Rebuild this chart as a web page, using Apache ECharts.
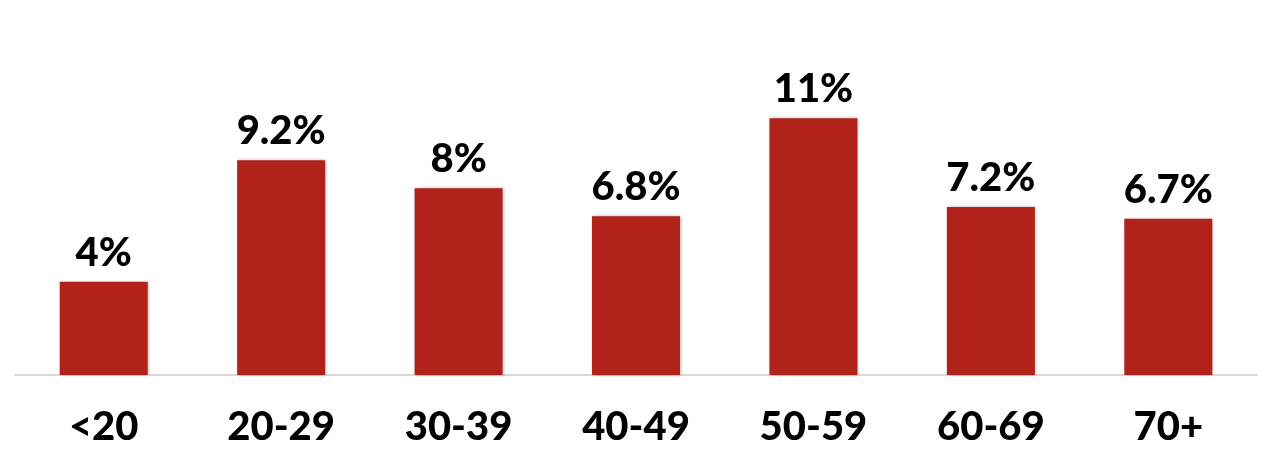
<!DOCTYPE html>
<html><head><meta charset="utf-8">
<script src="https://cdn.jsdelivr.net/npm/echarts@6/dist/echarts.min.js"></script>
<style>html,body{margin:0;padding:0;background:#fff}#c{width:1284px;height:460px}</style>
</head><body><div id="c"></div>
<script>
var categories = ['<20', '20-29', '30-39', '40-49', '50-59', '60-69', '70+'];
var values = [4, 9.2, 8, 6.8, 11, 7.2, 6.7];
var chart = echarts.init(document.getElementById('c'));
chart.setOption({
  animation: false,
  grid: { left: 15, right: 27, top: 95, bottom: 85 },
  xAxis: {
    type: 'category', data: categories,
    axisLine: { lineStyle: { color: '#d9d9d9', width: 2 } },
    axisTick: { show: false },
    axisLabel: { margin: 32, color: '#000', fontFamily: 'Lato', fontWeight: 900, fontSize: 40 }
  },
  yAxis: { type: 'value', min: 0, max: 12, show: false, splitLine: { show: false } },
  series: [{
    type: 'bar', data: values, barWidth: 88,
    itemStyle: { color: '#B0221A', shadowBlur: 3, shadowColor: 'rgba(0,0,0,0.3)', shadowOffsetX: 1, shadowOffsetY: 0 },
    label: { show: true, position: 'top', distance: 9, color: '#000', fontFamily: 'Lato', fontWeight: 900, fontSize: 40,
      formatter: function (p) { return p.value + '%'; } }
  }]
});
</script></body></html>
